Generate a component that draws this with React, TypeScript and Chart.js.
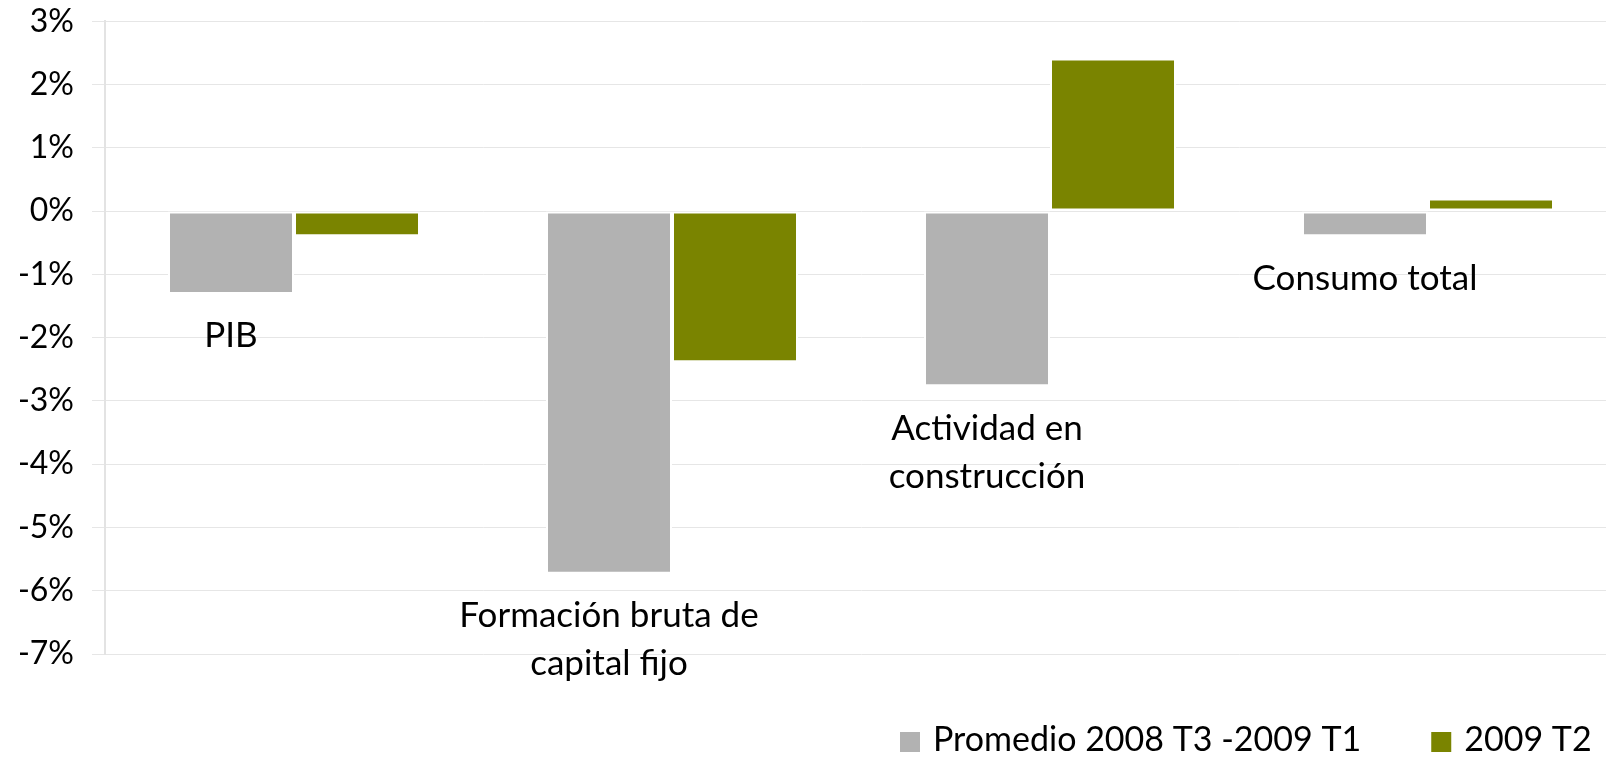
import React, { useEffect, useRef } from "react";
import { Chart, registerables } from "chart.js";

Chart.register(...registerables);

const categories: string[][] = [
  ["PIB"],
  ["Formación bruta de", "capital fijo"],
  ["Actividad en", "construcción"],
  ["Consumo total"],
];
const seriesNames = ["Promedio 2008 T3 -2009 T1", "2009 T2"];
const promedio = [-1.31, -5.73, -2.77, -0.4];
const t2 = [-0.4, -2.39, 2.41, 0.2];
const yTicks = [3, 2, 1, 0, -1, -2, -3, -4, -5, -6, -7];

const GRAY = "#b2b2b2";
const GREEN = "#7a8400";
const FONT = "Lato";
const SHIFT = 16;

const labelPlugin = {
  id: "catLabels",
  afterDatasetsDraw(chart: any) {
    const ctx = chart.ctx;
    const m0 = chart.getDatasetMeta(0);
    const m1 = chart.getDatasetMeta(1);
    ctx.save();
    ctx.fillStyle = "#000";
    ctx.font = `35px ${FONT}`;
    ctx.textAlign = "center";
    ctx.textBaseline = "middle";
    categories.forEach((lines, i) => {
      const x = m0.data[i].x;
      const yBottom = Math.max(m0.data[i].y, m1.data[i].y, m0.data[i].base);
      lines.forEach((ln, j) => {
        ctx.fillText(ln, x, yBottom + 42 + j * 48);
      });
    });
    ctx.restore();
  },
};

const legendPlugin = {
  id: "customLegend",
  afterDraw(chart: any) {
    const ctx = chart.ctx;
    ctx.save();
    ctx.font = `34px ${FONT}`;
    ctx.textBaseline = "middle";
    ctx.textAlign = "left";
    const colors = [GRAY, GREEN];
    let x = 900;
    const yc = 741 + SHIFT;
    seriesNames.forEach((name, i) => {
      ctx.fillStyle = colors[i];
      ctx.fillRect(x, yc - 9, 20, 20);
      ctx.fillStyle = "#000";
      const tx = x + 33;
      ctx.fillText(name, tx, yc - 1);
      x = tx + ctx.measureText(name).width + 70;
    });
    ctx.restore();
  },
};

export default function App() {
  const ref = useRef<HTMLCanvasElement>(null);
  useEffect(() => {
    if (!ref.current) return;
    const chart = new Chart(ref.current, {
      type: "bar",
      data: {
        labels: categories.map((c) => c.join(" ")),
        datasets: [
          {
            label: seriesNames[0],
            data: promedio,
            backgroundColor: GRAY,
            borderColor: "#ffffff",
            borderWidth: 2,
            borderSkipped: false,
            categoryPercentage: 0.6667,
            barPercentage: 1.0,
          },
          {
            label: seriesNames[1],
            data: t2,
            backgroundColor: GREEN,
            borderColor: "#ffffff",
            borderWidth: 2,
            borderSkipped: false,
            categoryPercentage: 0.6667,
            barPercentage: 1.0,
          },
        ],
      },
      options: {
        responsive: false,
        animation: false,
        devicePixelRatio: 1,
        layout: { padding: { top: 1, bottom: 105, right: 1, left: 0 } },
        plugins: {
          legend: { display: false },
          tooltip: { enabled: false },
        },
        scales: {
          x: { display: false },
          y: {
            min: -7,
            max: 3,
            afterFit: (s: any) => {
              s.width = 105;
            },
            afterBuildTicks: (s: any) => {
              s.ticks = yTicks.map((v) => ({ value: v }));
            },
            ticks: {
              stepSize: 1,
              color: "#000",
              font: { family: FONT, size: 32 },
              padding: 18,
              callback: (v: any) => `${v}%`,
            },
            grid: {
              color: "#e6e6e6",
              lineWidth: 1,
              tickLength: 13,
              drawTicks: true,
            },
            border: { display: true, color: "#e3e3e3", width: 2 },
          },
        },
      },
      plugins: [labelPlugin, legendPlugin],
    });
    return () => chart.destroy();
  }, []);
  return (
    <div
      style={{
        position: "absolute",
        left: 0,
        top: 0,
        width: 1606,
        height: 759,
        overflow: "hidden",
        background: "#fff",
      }}
    >
      <canvas
        ref={ref}
        width={1618}
        height={759 + SHIFT}
        style={{ display: "block", position: "absolute", left: 0, top: -SHIFT }}
      />
    </div>
  );
}
